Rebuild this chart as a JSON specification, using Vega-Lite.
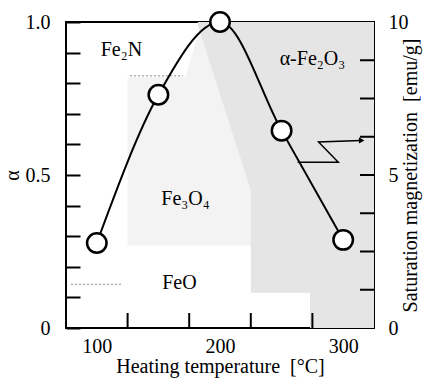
{
  "$schema": "https://vega.github.io/schema/vega-lite/v6.json",
  "width": 308,
  "height": 306,
  "autosize": "none",
  "padding": {"left": 66, "top": 22, "right": 60, "bottom": 54},
  "background": "white",
  "config": {
    "view": {"stroke": "black", "strokeWidth": 2},
    "font": "Liberation Serif",
    "axis": {"labelFont": "Liberation Serif", "titleFont": "Liberation Serif", "labelColor": "black", "titleColor": "black", "labelFontSize": 20, "titleFontSize": 20, "titleFontWeight": "normal", "domain": false, "grid": false, "tickColor": "black", "tickWidth": 2, "labelOverlap": false, "labelBound": false, "labelFlush": false, "zindex": 1}
  },
  "datasets": {
    "pts": [
      {"t": 100, "a": 0.278, "ms": 2.78},
      {"t": 150, "a": 0.762, "ms": 7.62},
      {"t": 200, "a": 1.0, "ms": 10.0},
      {"t": 250, "a": 0.645, "ms": 6.45},
      {"t": 300, "a": 0.288, "ms": 2.88}
    ],
    "light": [
      {"t": 125, "a": 0.82, "b": 0.27},
      {"t": 172, "a": 0.82, "b": 0.27},
      {"t": 185, "a": 1.0, "b": 0.27},
      {"t": 226, "a": 1.0, "b": 0.27}
    ],
    "dark": [
      {"t": 182, "a": 1.0, "b": 0.99},
      {"t": 225, "a": 1.0, "b": 0.45},
      {"t": 225.05, "a": 1.0, "b": 0.115},
      {"t": 273, "a": 1.0, "b": 0.115},
      {"t": 273.05, "a": 1.0, "b": 0.0},
      {"t": 325, "a": 1.0, "b": 0.0}
    ],
    "dots": [
      {"t": 127, "t2": 170, "a": 0.824},
      {"t": 79, "t2": 120, "a": 0.143}
    ],
    "xticks": [
      {"t": 125, "a": 0, "b": 0.049},
      {"t": 175, "a": 0, "b": 0.049},
      {"t": 225, "a": 0, "b": 0.049},
      {"t": 275, "a": 0, "b": 0.049}
    ],
    "rticks": [
      {"t": 325, "a": 0.125},
      {"t": 325, "a": 0.25},
      {"t": 325, "a": 0.375},
      {"t": 325, "a": 0.5},
      {"t": 325, "a": 0.625},
      {"t": 325, "a": 0.75},
      {"t": 325, "a": 0.875}
    ],
    "arrow": [
      {"i": 1, "t": 263, "a": 0.542},
      {"i": 2, "t": 296, "a": 0.542},
      {"i": 3, "t": 280, "a": 0.608},
      {"i": 4, "t": 314, "a": 0.613}
    ],
    "head": [{"t": 315, "a": 0.613}],
    "labels": [
      {"t": 120, "a": 0.91, "text": "Fe₂N"},
      {"t": 275, "a": 0.88, "text": "α-Fe₂O₃"},
      {"t": 172, "a": 0.42, "text": "Fe₃O₄"},
      {"t": 167, "a": 0.147, "text": "FeO"}
    ]
  },
  "layer": [
    {
      "encoding": {
        "x": {"field": "t", "type": "quantitative", "scale": {"domain": [75, 325], "nice": false}, "axis": {"orient": "bottom", "values": [100, 200, 300], "ticks": false, "labelPadding": 8, "title": "Heating temperature \u00a0[°C]", "titlePadding": 0}},
        "y": {"field": "a", "type": "quantitative", "stack": null, "scale": {"domain": [0, 1], "nice": false}, "axis": {"orient": "left", "values": [0, 0.1, 0.2, 0.3, 0.4, 0.5, 0.6, 0.7, 0.8, 0.9, 1.0], "labelExpr": "datum.value === 0 ? '0' : (abs(datum.value - 0.5) < 0.001 || abs(datum.value - 1) < 0.001) ? format(datum.value, '.1f') : ''", "tickSize": -14, "labelPadding": 30, "title": "α", "titlePadding": 3}}
      },
      "layer": [
        {
          "data": {"name": "light"},
          "mark": {"type": "area", "color": "#f3f3f3"},
          "encoding": {"y2": {"field": "b"}}
        },
        {
          "data": {"name": "dark"},
          "mark": {"type": "area", "color": "#e5e5e5"},
          "encoding": {"y2": {"field": "b"}}
        },
        {
          "data": {"name": "dots"},
          "mark": {"type": "rule", "color": "#888888", "strokeDash": [2, 2], "strokeWidth": 1},
          "encoding": {"x2": {"field": "t2"}}
        },
        {
          "data": {"name": "xticks"},
          "mark": {"type": "rule", "color": "black", "strokeWidth": 2, "opacity": 1},
          "encoding": {"y2": {"field": "b"}}
        },
        {
          "data": {"name": "rticks"},
          "mark": {"type": "tick", "orient": "horizontal", "size": 28, "thickness": 2, "color": "black", "opacity": 1, "clip": true}
        },
        {
          "data": {"name": "pts"},
          "mark": {"type": "line", "interpolate": "monotone", "color": "black", "strokeWidth": 2},
          "encoding": {}
        },
        {
          "data": {"name": "arrow"},
          "mark": {"type": "line", "color": "black", "strokeWidth": 1.5},
          "encoding": {"order": {"field": "i"}}
        },
        {
          "data": {"name": "head"},
          "mark": {"type": "point", "shape": "triangle-right", "filled": true, "color": "black", "size": 40, "opacity": 1}
        },
        {
          "data": {"name": "pts"},
          "mark": {"type": "point", "shape": "circle", "filled": true, "fill": "white", "stroke": "black", "strokeWidth": 2.5, "size": 380, "opacity": 1}
        },
        {
          "data": {"name": "labels"},
          "mark": {"type": "text", "font": "Liberation Serif", "fontSize": 20, "color": "black"},
          "encoding": {"text": {"field": "text"}}
        }
      ]
    },
    {
      "data": {"name": "pts"},
      "mark": {"type": "point", "opacity": 0},
      "encoding": {
        "x": {"field": "t", "type": "quantitative", "axis": null},
        "y": {"field": "ms", "type": "quantitative", "scale": {"domain": [0, 10], "nice": false}, "axis": {"orient": "right", "values": [0, 5, 10], "ticks": false, "labelPadding": 14, "title": "Saturation magnetization \u00a0[emu/g]", "titleAngle": 270, "titlePadding": 12}}
      }
    }
  ],
  "resolve": {"scale": {"y": "independent"}, "axis": {"y": "independent", "x": "independent"}}
}
